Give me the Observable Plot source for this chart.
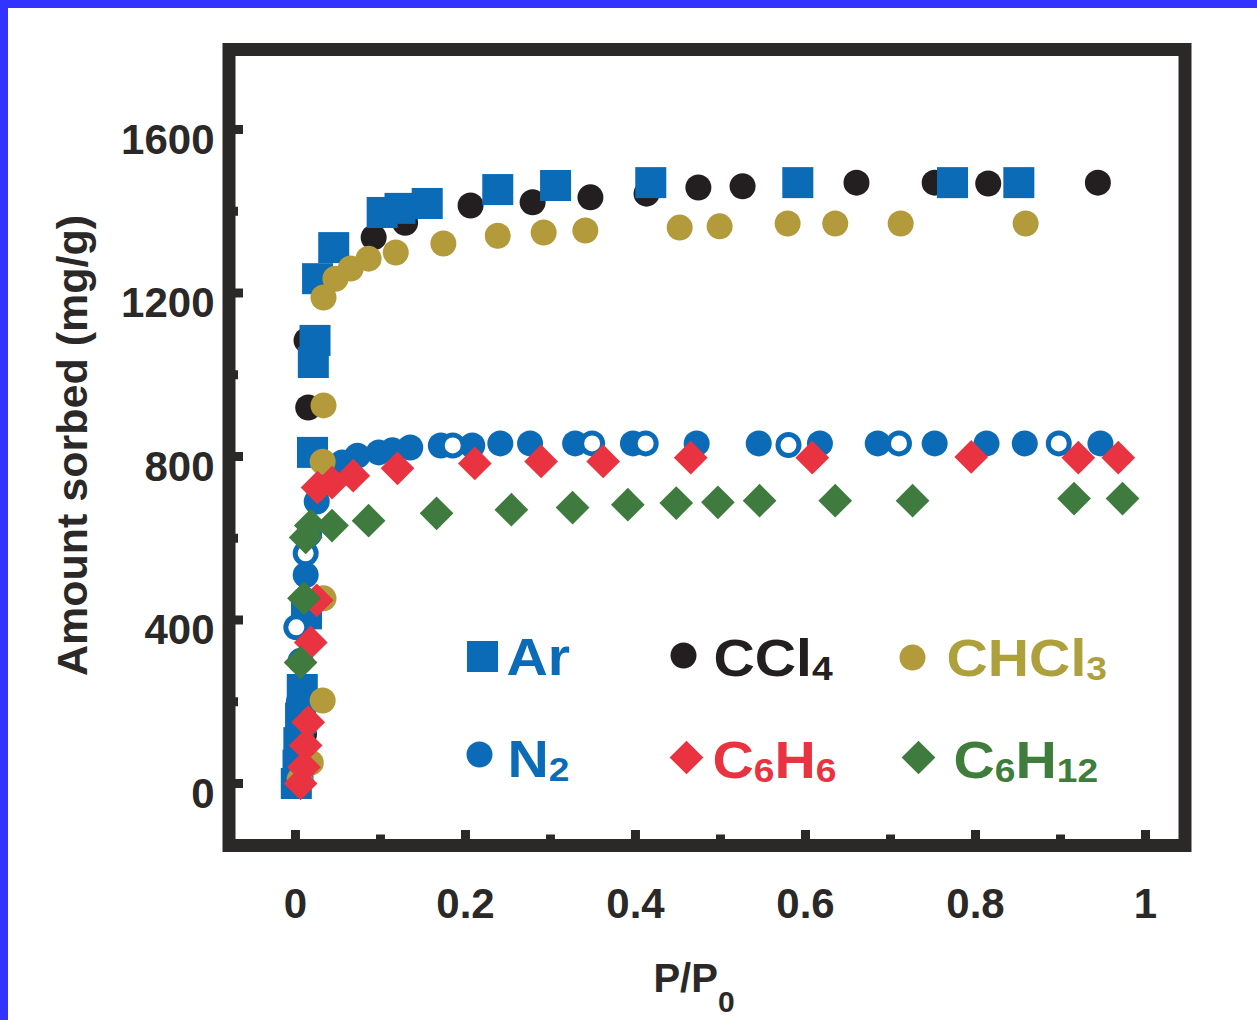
<!DOCTYPE html>
<html><head><meta charset="utf-8">
<script src="https://cdn.jsdelivr.net/npm/d3@7"></script>
<script src="https://cdn.jsdelivr.net/npm/@observablehq/plot@0.6"></script>
<style>
html,body{margin:0;padding:0;background:#fff;}
#wrap{position:relative;width:1257px;height:1020px;overflow:hidden;background:#fff;}
#wrap svg{position:absolute;left:0;top:0;}
.bar{position:absolute;background:#3333ff;z-index:2}
</style></head><body>
<div id="wrap"><div class="bar" style="left:0;top:0;width:1257px;height:8px"></div><div class="bar" style="left:0;top:0;width:8px;height:1020px"></div></div>
<script>
// ---- data ----
const arX  = [0.001, 0.003, 0.004, 0.006, 0.008, 0.013, 0.020, 0.021, 0.023, 0.026, 0.045, 0.102, 0.123, 0.155, 0.238, 0.306, 0.418, 0.591, 0.773, 0.851];
const arY  = [0, 45, 100, 160, 230, 415, 810, 1030, 1084, 1235, 1311, 1397, 1407, 1419, 1453, 1463, 1470, 1470, 1470, 1470];
const cclX = [0.004, 0.010, 0.013, 0.015, 0.092, 0.129, 0.206, 0.279, 0.347, 0.413, 0.474, 0.526, 0.660, 0.752, 0.815, 0.944];
const cclY = [20, 120, 1084, 920, 1336, 1372, 1414, 1422, 1434, 1443, 1458, 1461, 1470, 1470, 1468, 1470];
const chX  = [0.005, 0.018, 0.032, 0.033, 0.032, 0.033, 0.033, 0.047, 0.065, 0.086, 0.118, 0.174, 0.238, 0.292, 0.341, 0.452, 0.499, 0.579, 0.635, 0.712, 0.859];
const chY  = [10, 51, 203, 453, 787, 925, 1189, 1235, 1260, 1284, 1299, 1321, 1340, 1348, 1353, 1360, 1363, 1370, 1370, 1370, 1370];
const n2X  = [0.001, 0.003, 0.004, 0.006, 0.010, 0.012, 0.016, 0.025, 0.040, 0.055, 0.073, 0.098, 0.114, 0.135, 0.171, 0.208, 0.241, 0.276, 0.329, 0.397, 0.472, 0.545, 0.617, 0.685, 0.752, 0.813, 0.858, 0.947];
const n2Y  = [15, 90, 200, 300, 420, 510, 610, 690, 760, 785, 802, 810, 815, 822, 827, 827, 832, 832, 832, 832, 832, 832, 832, 832, 832, 832, 832, 832];
const n2dX = [0.001, 0.012, 0.185, 0.349, 0.412, 0.580, 0.710, 0.898];
const n2dY = [382, 563, 827, 832, 832, 828, 832, 832];
const bzX  = [0.006, 0.010, 0.012, 0.015, 0.018, 0.025, 0.026, 0.043, 0.068, 0.120, 0.211, 0.289, 0.362, 0.465, 0.608, 0.795, 0.921, 0.968];
const bzY  = [0, 40, 93, 150, 345, 448, 724, 736, 753, 771, 783, 788, 788, 797, 797, 799, 797, 797];
const cxX  = [0.006, 0.010, 0.012, 0.018, 0.043, 0.086, 0.166, 0.254, 0.326, 0.391, 0.448, 0.497, 0.546, 0.635, 0.726, 0.916, 0.973];
const cxY  = [296, 453, 602, 631, 631, 643, 661, 670, 675, 682, 686, 688, 692, 692, 692, 697, 697];

const xTicks = [0, 0.2, 0.4, 0.6, 0.8, 1];
const xMinor = [0.1, 0.3, 0.5, 0.7, 0.9];
const yTicks = [0, 400, 800, 1200, 1600];
const yMinor = [200, 600, 1000, 1400];
const legendNames = ["Ar", "CCl_4", "CHCl_3", "N_2", "C_6H_6", "C_6H_12"];

// ---- styling ----
const C = {ar:"#0b6bb7", ccl:"#231f20", ch:"#b39a3b", bz:"#ea3340", cx:"#3f7b3e", frame:"#2b2828"};
const txtCol = ["#0b6bb7", "#231f20", "#aea03c", "#0b6bb7", "#ea3340", "#3e7d3b"];
const sym = ["square", "circle", "circle", "circle", "diamond2", "diamond2"];
const symCol = [C.ar, C.ccl, C.ch, C.ar, C.bz, C.cx];
const symR = [17.5, 13, 13, 13, 15.2, 15.2];
const mPos = [[253.5,607],[454.5,606],[683.5,608],[250.5,705],[457.5,708],[689.5,708]];
const tPos = [[277.5,625],[484.5,626],[717.5,626],[278.5,727],[483.5,728],[724.5,728]];

const pts = (X, Y) => X.map((x, i) => ({x, y: Y[i]}));
const W = 1257, H = 1020, mL = 228.5, mR = 72.5, mT = 49, mB = 175;
const innerW = W - mL - mR, innerH = H - mT - mB;
const font = "'Liberation Sans', Arial, Helvetica, sans-serif";

const legendMarks = [];
legendNames.forEach((name, i) => {
  legendMarks.push(Plot.dot([0], {frameAnchor: "top-left", dx: mPos[i][0], dy: mPos[i][1], symbol: sym[i], r: symR[i], fill: symCol[i]}));
  legendMarks.push(Plot.text([name], {frameAnchor: "top-left", dx: tPos[i][0], dy: tPos[i][1], text: d => d, textAnchor: "start", lineAnchor: "bottom", fill: txtCol[i], fontSize: 52, fontWeight: "bold"}));
});

const chart = Plot.plot({
  width: W, height: H,
  marginLeft: mL, marginRight: mR, marginTop: mT, marginBottom: mB,
  style: {fontFamily: font, background: "transparent", color: C.frame},
  x: {domain: [-0.0782, 1.0465], axis: null},
  y: {domain: [-151.7, 1795.7], axis: null},
  marks: [
    Plot.dot(pts(cclX, cclY), {x: "x", y: "y", r: 13, fill: C.ccl}),
    Plot.dot(pts(arX, arY), {x: "x", y: "y", symbol: "square", r: 17.5, fill: C.ar}),
    Plot.dot(pts(n2X, n2Y), {x: "x", y: "y", r: 13, fill: C.ar}),
    Plot.dot(pts(n2dX, n2dY), {x: "x", y: "y", r: 10.5, fill: "white", stroke: C.ar, strokeWidth: 5}),
    Plot.dot(pts(chX, chY), {x: "x", y: "y", r: 13, fill: C.ch}),
    Plot.dot(pts(bzX, bzY), {x: "x", y: "y", symbol: "diamond2", r: 15.2, fill: C.bz}),
    Plot.dot(pts(cxX, cxY), {x: "x", y: "y", symbol: "diamond2", r: 15.2, fill: C.cx}),
    ...legendMarks,
    Plot.tickX(xTicks, {x: d => d, insetTop: innerH - 15, stroke: C.frame, strokeWidth: 9}),
    Plot.tickX(xMinor, {x: d => d, insetTop: innerH - 10.5, stroke: C.frame, strokeWidth: 9}),
    Plot.tickY(yTicks, {y: d => d, insetRight: innerW - 14.5, stroke: C.frame, strokeWidth: 9}),
    Plot.tickY(yMinor, {y: d => d, insetRight: innerW - 9.5, stroke: C.frame, strokeWidth: 9}),
    Plot.frame({stroke: C.frame, strokeWidth: 13}),
    Plot.axisX(xTicks, {anchor: "bottom", tickSize: 0, tickPadding: 0, dy: 59, lineAnchor: "middle", tickFormat: d => String(d), fontSize: 42, fontWeight: "bold", fill: C.frame, label: null}),
    Plot.axisY(yTicks, {anchor: "left", tickSize: 0, tickPadding: 0, dx: -14.5, dy: 11, lineAnchor: "middle", textAnchor: "end", tickFormat: d => String(d), fontSize: 42, fontWeight: "bold", fill: C.frame, label: null}),
    Plot.text(["Amount sorbed (mg/g)"], {frameAnchor: "left", dx: -155.5, dy: -2, rotate: -90, text: d => d, textAnchor: "middle", lineAnchor: "middle", fontSize: 43, fontWeight: "bold", fill: C.frame}),
    Plot.text(["P/P_0"], {frameAnchor: "bottom", dx: -13, dy: 146, text: d => d, textAnchor: "middle", lineAnchor: "bottom", fontSize: 40, fontWeight: "bold", fill: C.frame})
  ]
});

// subscripts and legend text widening
const ns = "http://www.w3.org/2000/svg";
chart.querySelectorAll("text").forEach(t => {
  const s = t.textContent;
  const isLegend = legendNames.includes(s);
  if (isLegend) {
    const tr = t.getAttribute("transform");
    if (tr) t.setAttribute("transform", tr + " scale(1.1,1)");
    else {
      const x = +t.getAttribute("x") || 0;
      t.setAttribute("x", 0);
      t.setAttribute("transform", `translate(${x},0) scale(1.1,1)`);
    }
  }
  if (!s.includes("_")) return;
  const isAxis = s.startsWith("P/P");
  const r = isAxis ? 0.75 : 0.65, sh = isAxis ? 0.5 : 0.08;
  const parts = s.split(/_(\d+)/);
  t.textContent = "";
  parts.forEach((p, i) => {
    if (!p) return;
    const ts = document.createElementNS(ns, "tspan");
    ts.textContent = p;
    if (i % 2 === 1) {
      ts.setAttribute("font-size", (r * 100) + "%");
      ts.setAttribute("dy", (sh / r) + "em");
    } else if (i > 0) {
      ts.setAttribute("dy", (-sh) + "em");
    }
    t.appendChild(ts);
  });
});

document.getElementById("wrap").appendChild(chart);
</script></body></html>
